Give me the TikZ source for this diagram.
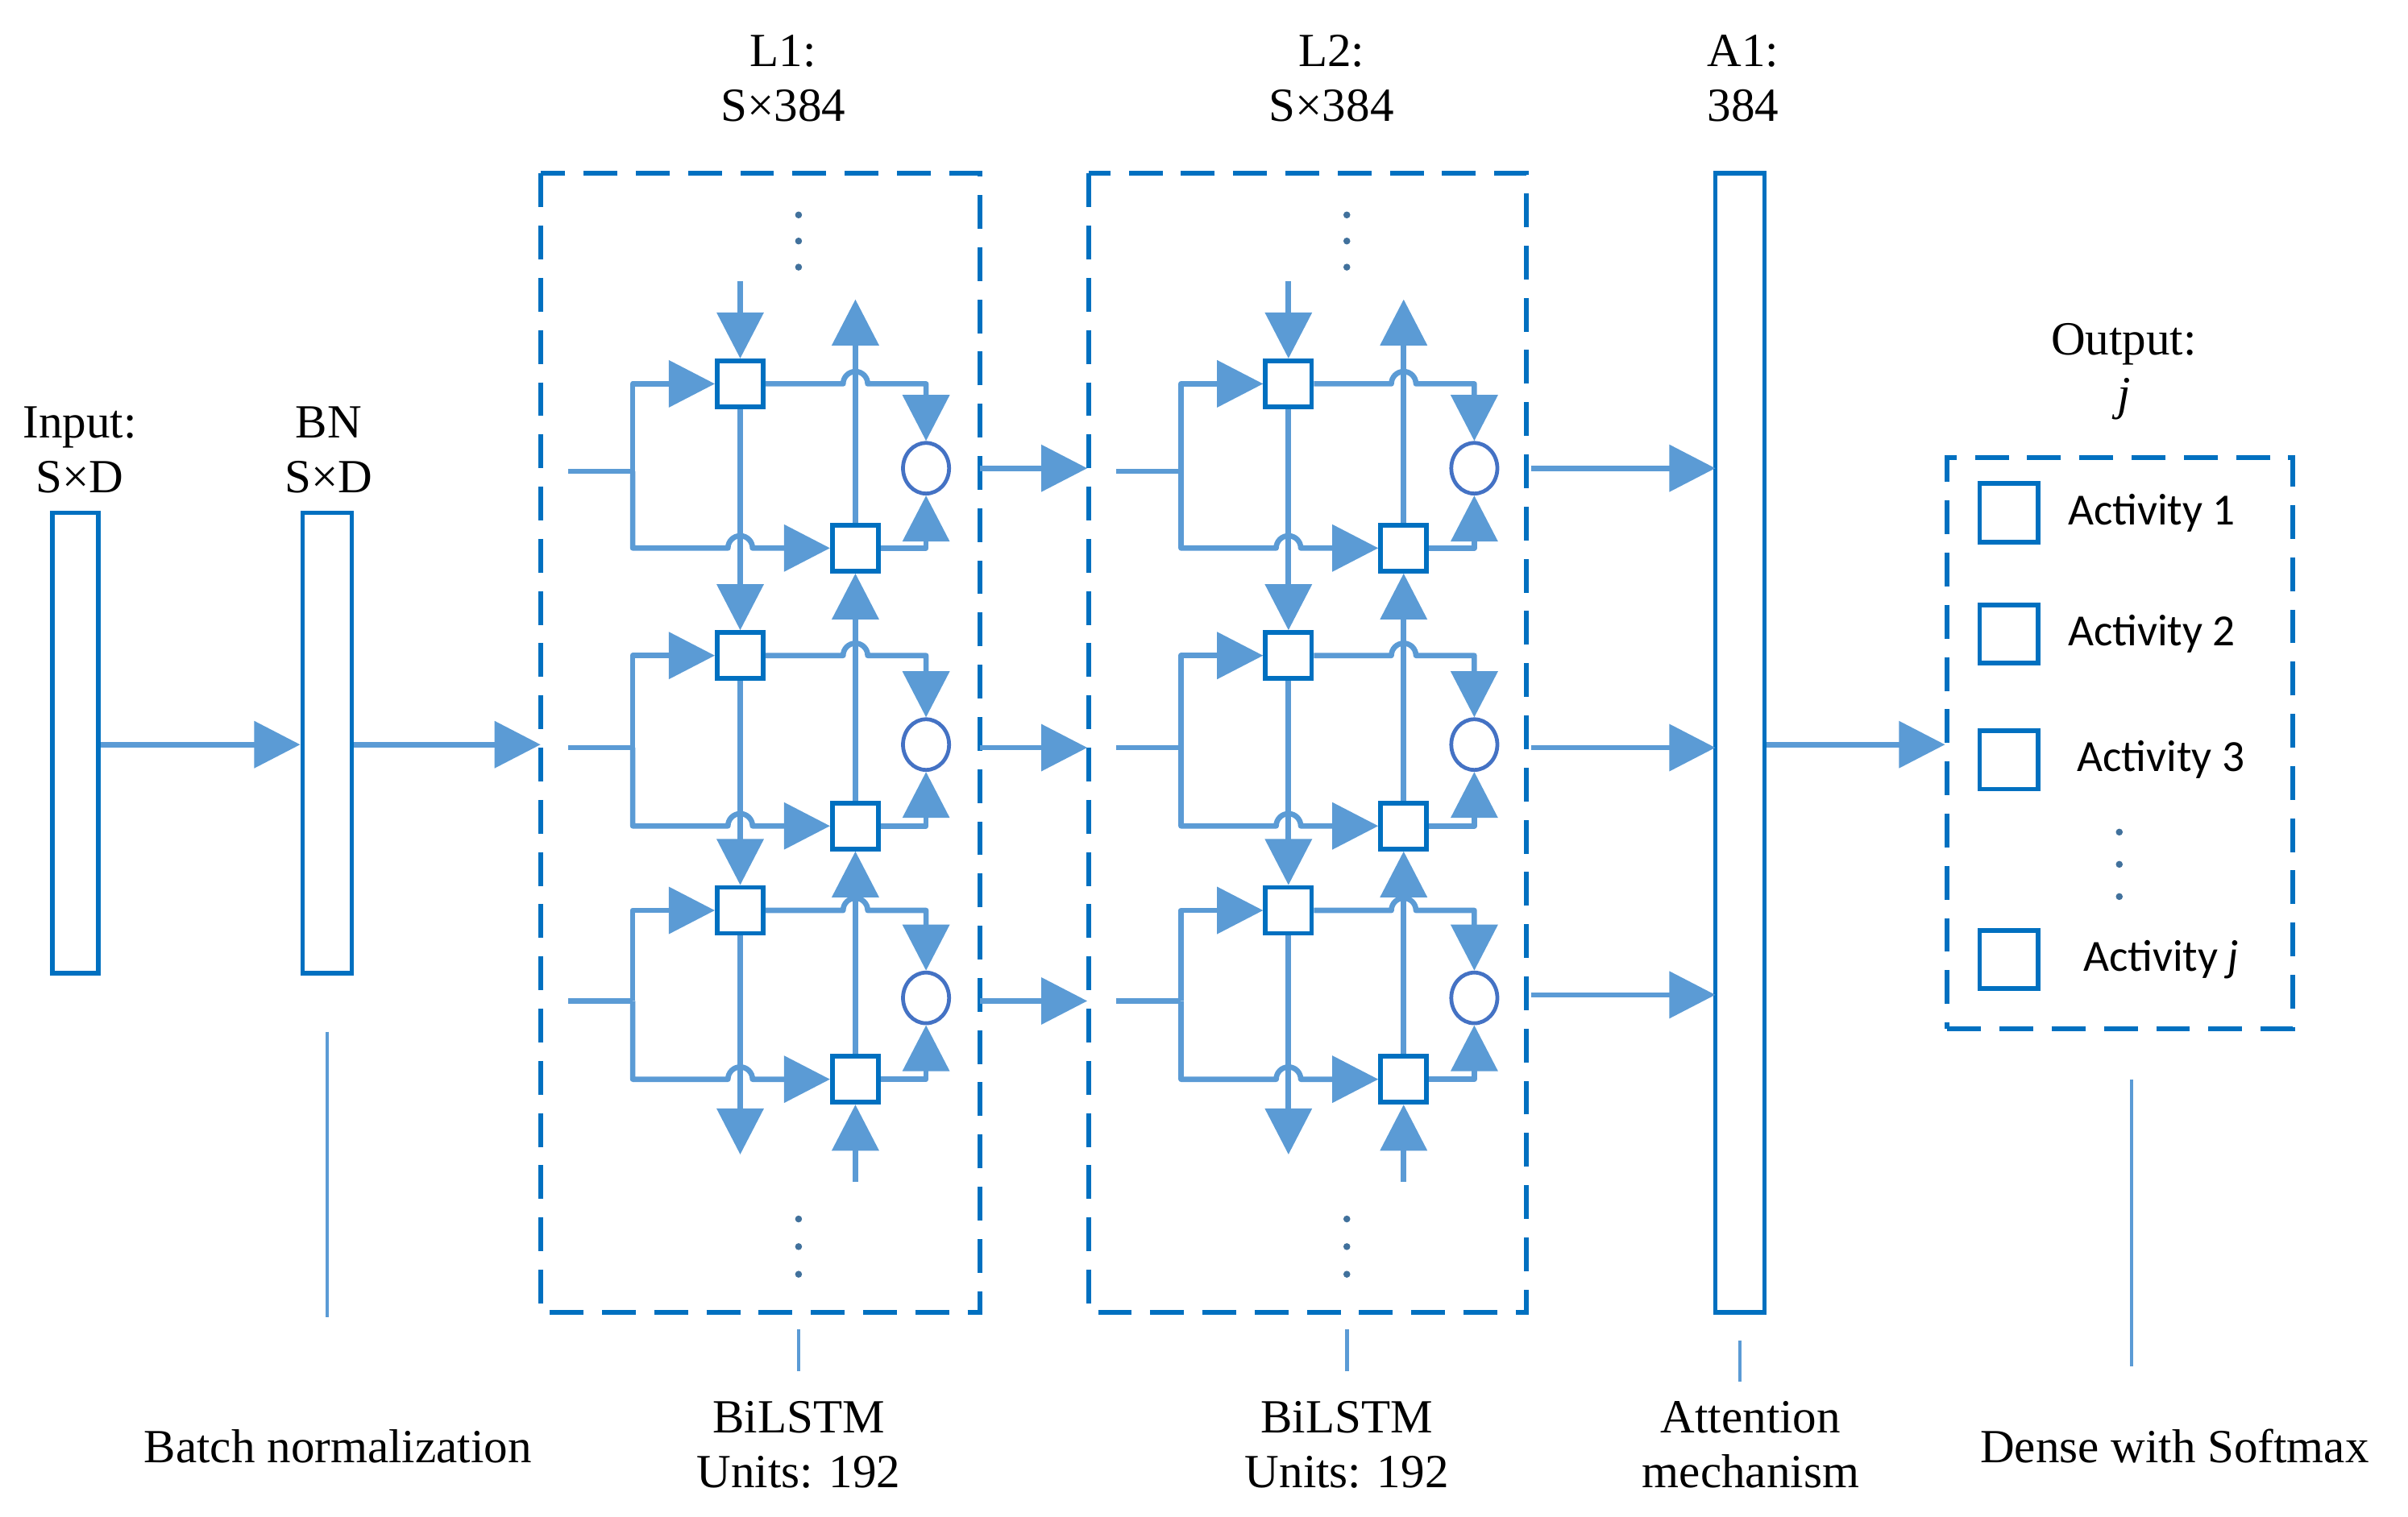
\documentclass[tikz,border=0pt]{standalone}
\usepackage{fontspec}
\setmainfont{Liberation Serif}
\newfontfamily\calfont{Carlito}
\usetikzlibrary{arrows.meta,shapes.geometric}
\definecolor{ln}{HTML}{5B9BD5}
\definecolor{bx}{HTML}{0070C0}
\definecolor{ci}{HTML}{4472C4}
\definecolor{dt}{HTML}{41719C}
\begin{document}
\begin{tikzpicture}[x=1pt,y=-1pt,
  lnst/.style={draw=ln,line width=3.5pt,line join=round},
  ar/.style={lnst,-{Triangle[length=30pt,width=30pt]}},
  sq/.style={draw=bx,line width=3pt,fill=white,minimum size=30pt,inner sep=0pt},
  circ/.style={ellipse,draw=ci,line width=2.5pt,minimum width=30pt,minimum height=33pt,inner sep=0pt},
  bar/.style={draw=bx,line width=3pt,fill=white,inner sep=0pt},
  dbox/.style={draw=bx,line width=3pt,dash pattern=on 22pt off 12pt},
  lab/.style={font=\fontsize{31}{36}\selectfont,align=center},
  act/.style={font=\calfont\fontsize{29}{34}\selectfont,anchor=west},
  dot/.style={circle,fill=dt,minimum size=4.5pt,inner sep=0pt}]
\useasboundingbox (0,0) rectangle (1568,988);
% bars
\node[bar,minimum width=30pt,minimum height=300pt] (inp) at (49,484) {};
\node[bar,minimum width=32pt,minimum height=300pt] (bn) at (213,484) {};
\node[bar,minimum width=32pt,minimum height=742pt] (att) at (1133,484) {};
% dashed boxes
\draw[dbox] (352,113) rectangle (638,855);
\draw[dbox] (709,113) rectangle (994,855);
\node[dbox,minimum width=225pt,minimum height=372pt] (out) at (1380.5,484) {};
% layers
\foreach \L/\ox in {1/0,2/357}{
 \foreach \r/\ya/\yb/\yc/\yi in {1/250/357/305/307,2/427/538/485/487,3/593/703/650/652}{
  \node[sq] (A\L\r) at (482+\ox,\ya) {};
  \node[sq] (B\L\r) at (557+\ox,\yb) {};
  \node[circ] (C\L\r) at (603+\ox,\yc) {};
  \coordinate (in\L\r) at (370+\ox,\yi);
  \coordinate (j\L\r) at (412+\ox,\yi);
  \draw[lnst] (in\L\r) -- (j\L\r);
  \draw[ar] (j\L\r) |- (A\L\r.west);
  \draw[ar] (j\L\r) -- (412+\ox,\yb) -- (474+\ox,\yb) arc[start angle=180,end angle=360,radius=8] -- (B\L\r.west);
  \draw[ar] (A\L\r.east) -- (549+\ox,\ya) arc[start angle=180,end angle=360,radius=8] -- (603+\ox,\ya) -- (C\L\r.north);
  \draw[ar] (B\L\r.east) -- (603+\ox,\yb) -- (C\L\r.south);
 }
 \coordinate (at\L) at (482+\ox,183);
 \coordinate (ab\L) at (482+\ox,752);
 \coordinate (bt\L) at (557+\ox,195);
 \coordinate (bb\L) at (557+\ox,770);
 \draw[ar] (at\L) -- (A\L1.north);
 \draw[ar] (A\L1.south) -- (A\L2.north);
 \draw[ar] (A\L2.south) -- (A\L3.north);
 \draw[ar] (A\L3.south) -- (ab\L);
 \draw[ar] (bb\L) -- (B\L3.south);
 \draw[ar] (B\L3.north) -- (B\L2.south);
 \draw[ar] (B\L2.north) -- (B\L1.south);
 \draw[ar] (B\L1.north) -- (bt\L);
 \foreach \yy in {140,157,174,794,812,830} \node[dot] at (520+\ox,\yy) {};
}
% inter-layer arrows
\foreach \yy in {305,487,652}{
 \coordinate (s\yy) at (638,\yy); \coordinate (e\yy) at (708,\yy);
 \draw[ar] (s\yy) -- (e\yy);}
\foreach \yy in {305,487,648}{
 \coordinate (t\yy) at (997,\yy); \coordinate (u\yy) at (1117,\yy);
 \draw[ar] (t\yy) -- (u\yy);}
\draw[ar] (inp.east |- 0,485) -- (bn.west |- 0,485);
\draw[ar] (bn.east |- 0,485) -- (352,485);
\draw[ar] (att.east |- 0,485) -- (out.west |- 0,485);
% output squares
\foreach \i/\yy/\t/\tx in {1/334/Activity 1/1343,2/413/Activity 2/1343,3/495/Activity 3/1349,4/625/Activity \textit{j}/1353}{
 \node[sq,minimum size=38pt] (o\i) at (1308,\yy) {};
 \node[act] at (\tx,\yy) {\t};}
\foreach \yy in {542,563,584} \node[dot] at (1380,\yy) {};
% labels
\node[lab] at (52,293) {Input:\\S×D};
\node[lab] at (214,293) {BN\\S×D};
\node[lab] at (510,51) {L1:\\S×384};
\node[lab] at (867,51) {L2:\\S×384};
\node[lab] at (1135,51) {A1:\\384};
\node[lab] at (1383,242) {Output:\\\textit{j}};
% bottom
\draw[lnst,line width=2.5pt] (213,672) -- (213,858);
\draw[lnst,line width=2.5pt] (520,866) -- (520,893);
\draw[lnst,line width=2.5pt] (877,866) -- (877,893);
\draw[lnst,line width=2.5pt] (1133,873) -- (1133,900);
\draw[lnst,line width=2.5pt] (1388,703) -- (1388,890);
\node[lab] at (220,942) {Batch normalization};
\node[lab] at (520,941) {BiLSTM\\Units: 192};
\node[lab] at (877,941) {BiLSTM\\Units: 192};
\node[lab] at (1140,941) {Attention\\mechanism};
\node[lab] at (1416,942) {Dense with Softmax};
\end{tikzpicture}
\end{document}
